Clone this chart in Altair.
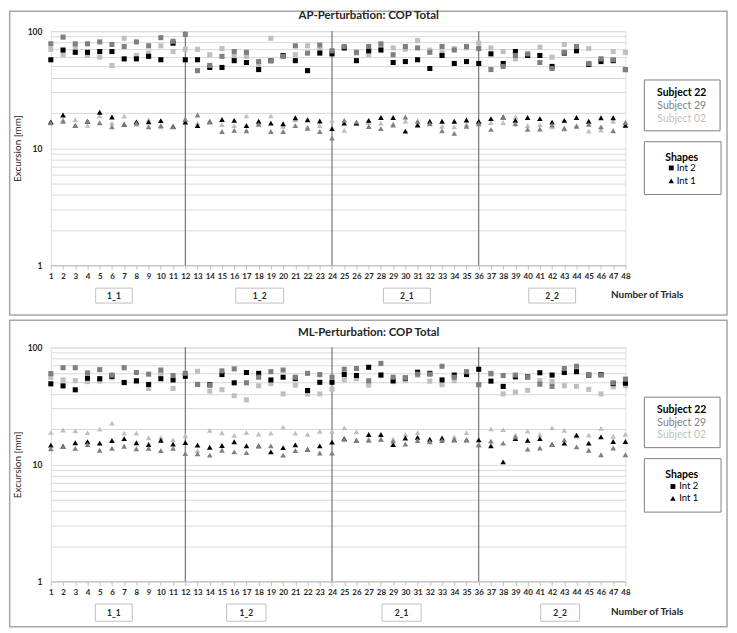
import altair as alt
import pandas as pd

# ---------------- data ----------------
trials = [1, 2, 3, 4, 5, 6, 7, 8, 9, 10, 11, 12, 13, 14, 15, 16, 17, 18, 19, 20, 21, 22, 23, 24,
          25, 26, 27, 28, 29, 30, 31, 32, 33, 34, 35, 36, 37, 38, 39, 40, 41, 42, 43, 44, 45, 46, 47, 48]
subjects = ["Subject 22", "Subject 29", "Subject 02"]
subject_colors = ["#000000", "#7f7f7f", "#bfbfbf"]
shapes = ["Int 2", "Int 1"]
dividers = [12, 24, 36]
blocks = ["1_1", "1_2", "2_1", "2_2"]
y_ticks = [1, 2, 3, 4, 5, 6, 7, 8, 9, 10, 20, 30, 40, 50, 60, 70, 80, 90, 100]

# AP-Perturbation, Int 2 (squares)
ap_sq_s22 = [57, 69, 66, 66, 67, 67, 58, 58, 61, 57, 79, 57, 57, 49, 49, 56, 54, 47, 56, 62, 56, 46, 65, 64,
             72, 56, 68, 69, 54, 55, 57, 48, 62, 53, 55, 53, 64, 53, 67, 62, 62, 50, 65, 68, 52, 55, 56, 47]
ap_sq_s29 = [78, 89, 78, 78, 81, 77, 74, 81, 75, 88, 82, 94, 46, 51, 61, 67, 66, 55, 56, 61, 75, 65, 76, 68,
             74, 66, 74, 78, 63, 74, 72, 66, 74, 69, 74, 71, 47, 50, 62, 64, 54, 48, 66, 74, 53, 58, 57, 47]
ap_sq_s02 = [70, 63, 73, 62, 60, 51, 87, 62, 65, 75, 67, 70, 70, 63, 71, 61, 61, 52, 87, 61, 63, 75, 69, 68,
             72, 65, 63, 72, 72, 70, 83, 69, 66, 71, 72, 79, 72, 67, 58, 63, 73, 60, 77, 72, 71, 58, 67, 66]
# AP-Perturbation, Int 1 (triangles)
ap_tri_s22 = [16.8, 19.2, 15.6, 17.0, 20.3, 18.5, 16.0, 16.8, 16.8, 17.2, 15.3, 16.7,
              15.6, 16.8, 17.6, 17.3, 15.6, 17.0, 16.4, 16.2, 18.2, 17.5, 17.1, 14.7,
              16.4, 16.4, 17.3, 18.3, 18.3, 14.0, 15.8, 17.0, 17.0, 17.0, 17.4, 17.0,
              17.9, 18.5, 17.3, 18.3, 17.9, 16.7, 17.3, 18.3, 17.0, 18.2, 18.2, 15.7]
ap_tri_s29 = [16.5, 17.0, 15.6, 17.0, 16.5, 15.2, 16.0, 16.4, 15.2, 15.6, 15.2, 17.7,
              19.2, 16.9, 13.9, 14.2, 14.1, 16.0, 13.9, 13.9, 15.6, 14.8, 13.9, 12.2,
              17.3, 16.8, 15.3, 14.7, 15.8, 18.5, 17.0, 16.2, 14.1, 13.4, 15.4, 16.2,
              14.5, 18.5, 16.2, 14.5, 14.6, 15.8, 14.8, 15.4, 16.0, 15.2, 14.1, 16.6]
ap_tri_s02 = [16.8, 17.5, 17.5, 15.7, 18.9, 16.4, 18.8, 16.0, 17.5, 15.2, 15.6, 17.5,
              16.4, 17.1, 15.9, 15.6, 18.9, 16.4, 18.9, 15.4, 17.5, 15.2, 15.6, 17.3,
              14.2, 16.3, 16.6, 16.4, 16.2, 17.1, 16.0, 16.4, 15.4, 15.2, 16.0, 16.6,
              16.6, 16.6, 18.5, 15.6, 15.9, 15.2, 14.6, 15.6, 14.0, 14.3, 17.0, 16.6]

# ML-Perturbation, Int 2 (squares)
ml_sq_s22 = [48.8, 46.9, 43.4, 54.5, 54, 56.6, 50, 51.8, 48.2, 54, 52.7, 56.6,
             48.2, 48, 58.6, 49.8, 61, 60, 52.7, 55.6, 54, 42.8, 50.3, 50.3,
             58.6, 57.5, 67.6, 58, 51.8, 54.5, 61.3, 60, 52.7, 58, 58.6, 65,
             51.5, 46.4, 56, 56, 60.7, 58, 61, 62, 58, 58.6, 49, 49.4]
ml_sq_s29 = [59.7, 67, 67, 60.5, 64.5, 58, 67, 61, 59, 64, 57.4, 60,
             48.2, 47.5, 63, 65.5, 49.8, 55.6, 62, 64, 55.6, 60, 58.5, 55.6,
             65, 66, 51.8, 73, 55.6, 55, 59, 59, 69, 55.6, 62, 48,
             60, 57.5, 58, 55.6, 48.5, 46.4, 66, 69, 58.6, 58, 49.8, 53.6]
ml_sq_s02 = [55.6, 52.7, 52, 51, 51.5, 55, 50.5, 51, 44.6, 60, 44.6, 60,
             62.5, 42.3, 43.5, 38.6, 35.6, 47, 49, 40, 47.5, 40, 40, 44,
             52.7, 54, 47.5, 58, 51, 52, 58, 51.5, 48, 52, 61, 48,
             59, 40, 41.5, 43, 52, 51, 47, 46.4, 43.8, 40, 46, 47]
# ML-Perturbation, Int 1 (triangles)
ml_tri_s22 = [14.6, 14.3, 15.3, 15.6, 15.2, 16.0, 16.6, 15.3, 14.8, 16.1, 14.9, 15.4,
              14.6, 14.0, 14.5, 15.6, 14.4, 14.4, 12.8, 13.9, 14.7, 13.4, 14.4, 15.5,
              16.6, 16.0, 18.0, 18.0, 14.8, 16.8, 17.0, 16.4, 16.8, 16.2, 16.2, 16.2,
              14.4, 10.5, 16.6, 16.1, 16.6, 14.8, 15.2, 17.8, 15.2, 17.2, 15.7, 15.7]
ml_tri_s29 = [13.6, 14.2, 13.7, 14.8, 13.2, 13.7, 14.3, 13.6, 13.7, 13.1, 13.7, 12.4,
              12.3, 12.0, 13.2, 12.8, 12.6, 14.4, 14.4, 12.0, 13.1, 13.4, 12.5, 12.5,
              16.4, 16.0, 16.1, 16.4, 15.8, 14.9, 16.0, 15.6, 16.0, 16.2, 16.2, 14.6,
              15.8, 15.2, 17.2, 13.5, 13.8, 14.8, 16.2, 14.1, 13.2, 12.1, 13.8, 12.1]
ml_tri_s02 = [18.8, 19.7, 19.4, 18.7, 20.0, 22.5, 18.5, 18.5, 16.9, 17.0, 16.2, 17.6,
              13.1, 19.6, 18.6, 17.7, 18.7, 18.2, 18.5, 20.8, 18.5, 18.1, 19.2, 19.2,
              20.5, 19.0, 16.5, 16.4, 16.4, 18.0, 18.7, 15.8, 16.4, 17.2, 18.7, 15.0,
              20.1, 19.8, 17.8, 19.3, 18.0, 20.5, 19.6, 17.5, 17.8, 20.3, 17.4, 18.1]

# block label boxes (in trial units)
ap_block_start = [4.67, 16.13, 28.2, 40.09]
ap_block_end = [7.66, 20.04, 32.05, 43.92]
ml_block_start = [4.64, 15.38, 28.09, 41.07]
ml_block_end = [7.66, 18.6, 31.29, 44.25]

FONT = "Lato"
W, H = 577, 235
z_order = {"Subject 02": 0, "Subject 22": 1, "Subject 29": 2}


def panel(title, sq, tri, bstart, bend, L):
    rows = []
    for shape_name, series in (("Int 2", sq), ("Int 1", tri)):
        for subj, arr in zip(subjects, series):
            for t, v in zip(trials, arr):
                rows.append({"trial": t, "value": v, "subject": subj,
                             "shape": shape_name, "z": z_order[subj]})
    df = pd.DataFrame(rows)
    one = pd.DataFrame({"k": [0]})

    xs = alt.Scale(domain=[1, 48], nice=False, zero=False)
    ys = alt.Scale(type="log", domain=[1, 100], nice=False)

    x_axis = alt.Axis(
        values=trials, format="d", grid=False, ticks=True, tickSize=4,
        tickColor="#bfbfbf", domain=True, domainColor="#bfbfbf",
        labelFont=FONT, labelFontSize=8, labelFontWeight="bold",
        labelColor="#262626", labelPadding=3, labelOverlap=False,
        labelFlush=False, labelBound=False, title=None)

    points = alt.Chart(df).mark_point(filled=True, opacity=1, strokeWidth=0).encode(
        x=alt.X("trial:Q", scale=xs, axis=x_axis),
        y=alt.Y("value:Q", scale=ys, axis=alt.Axis(
            values=y_ticks,
            labelExpr="indexof([1, 10, 100], datum.value) >= 0 ? format(datum.value, 'd') : ''",
            grid=True, gridColor="#d9d9d9", gridWidth=1, ticks=False, domain=False,
            labelFont=FONT, labelFontSize=8.5, labelFontWeight="bold",
            labelColor="#262626", labelPadding=9, labelOverlap=False,
            title="Excursion [mm]", titleFont=FONT, titleFontSize=10,
            titleFontWeight="normal", titleColor="#262626", titlePadding=5)),
        color=alt.Color("subject:N", scale=alt.Scale(domain=subjects, range=subject_colors), legend=None),
        shape=alt.Shape("shape:N", scale=alt.Scale(domain=shapes, range=["square", "triangle-up"]), legend=None),
        size=alt.Size("shape:N", scale=alt.Scale(domain=shapes, range=[26, 32]), legend=None),
        order=alt.Order("z:Q"),
    )

    rules = alt.Chart(pd.DataFrame({"trial": dividers})).mark_rule(
        color="#595959", strokeWidth=1).encode(x=alt.X("trial:Q", scale=xs, axis=x_axis))

    bdf = pd.DataFrame({"block": blocks, "trial": bstart, "trial_end": bend})
    boxes = alt.Chart(bdf).mark_rect(fill="white", stroke="#bfbfbf", strokeWidth=1).encode(
        x=alt.X("trial:Q", scale=xs, axis=x_axis), x2="trial_end:Q",
        y=alt.value(L["by1"]), y2=alt.value(L["by2"]))
    box_txt = alt.Chart(bdf).transform_calculate(
        mid="(datum.trial + datum.trial_end) / 2").mark_text(
        font=FONT, fontSize=8.5, fontWeight="bold", color="#262626", baseline="middle").encode(
        x=alt.X("mid:Q", scale=xs, axis=x_axis), y=alt.value((L["by1"] + L["by2"]) / 2),
        text="block:N")

    ntr = alt.Chart(one).mark_text(font=FONT, fontSize=10, fontWeight="bold", color="#262626",
                                   align="left", baseline="middle").encode(
        x=alt.value(562.5), y=alt.value(L["ntr"]), text=alt.value("Number of Trials"))

    ttl = alt.Chart(one).mark_text(font=FONT, fontSize=11.5, fontWeight="bold", color="#262626",
                                   align="center", baseline="middle").encode(
        x=alt.value(319.2), y=alt.value(L["title"]), text=alt.value(title))

    border = alt.Chart(one).mark_rect(fillOpacity=0, stroke="#a6a6a6", strokeWidth=1.5).encode(
        x=alt.value(-41.3), x2=alt.value(679), y=alt.value(L["b1"]), y2=alt.value(L["b2"]))

    lb1 = alt.Chart(one).mark_rect(fill="white", stroke="#7f7f7f", strokeWidth=1).encode(
        x=alt.value(596), x2=alt.value(672), y=alt.value(L["l1a"]), y2=alt.value(L["l1b"]))
    lb2 = alt.Chart(one).mark_rect(fill="white", stroke="#7f7f7f", strokeWidth=1).encode(
        x=alt.value(596), x2=alt.value(673), y=alt.value(L["l2a"]), y2=alt.value(L["l2b"]))

    leg_txt = []
    for i, (s, c) in enumerate(zip(subjects, subject_colors)):
        leg_txt.append(alt.Chart(one).mark_text(
            font=FONT, fontSize=10.5, fontWeight="bold" if i == 0 else "normal", color=c,
            align="center", baseline="middle").encode(
            x=alt.value(633.5), y=alt.value(L["s"][i]), text=alt.value(s)))
    leg_txt.append(alt.Chart(one).mark_text(
        font=FONT, fontSize=10.5, fontWeight="bold", color="#000000",
        align="center", baseline="middle").encode(
        x=alt.value(633.5), y=alt.value(L["shp"]), text=alt.value("Shapes")))
    for i, (nm, sym, sz) in enumerate(zip(shapes, ["square", "triangle-up"], [24, 30])):
        leg_txt.append(alt.Chart(one).mark_point(
            shape=sym, filled=True, size=sz, color="#000000", opacity=1, strokeWidth=0).encode(
            x=alt.value(L["mx"]), y=alt.value(L["int"][i])))
        leg_txt.append(alt.Chart(one).mark_text(
            font=FONT, fontSize=9.5, color="#000000", align="left", baseline="middle").encode(
            x=alt.value(L["tx"]), y=alt.value(L["int"][i]), text=alt.value(nm)))

    return alt.layer(border, rules, points, boxes, box_txt, ntr, ttl, lb1, lb2,
                     *leg_txt).properties(width=W, height=H)


ap_layout = {"b1": -20, "b2": 285, "title": -15, "by1": 258, "by2": 273, "ntr": 265,
             "l1a": 49, "l1b": 100, "l2a": 111, "l2b": 164, "s": [62, 74.7, 87.7],
             "shp": 127, "int": [137.3, 150.3], "mx": 623, "tx": 628.5}
ml_layout = {"b1": -27.3, "b2": 280.5, "title": -14.3, "by1": 257.7, "by2": 275, "ntr": 265.7,
             "l1a": 50, "l1b": 100.7, "l2a": 111.7, "l2b": 165.4, "s": [62.7, 75.7, 88.4],
             "shp": 127.7, "int": [139.7, 151.7], "mx": 624.7, "tx": 631}

top = panel("AP-Perturbation: COP Total", [ap_sq_s22, ap_sq_s29, ap_sq_s02],
            [ap_tri_s22, ap_tri_s29, ap_tri_s02], ap_block_start, ap_block_end, ap_layout)
bottom = panel("ML-Perturbation: COP Total", [ml_sq_s22, ml_sq_s29, ml_sq_s02],
               [ml_tri_s22, ml_tri_s29, ml_tri_s02], ml_block_start, ml_block_end, ml_layout)

chart = alt.vconcat(top, bottom, spacing=1.5).properties(
    padding={"left": 0, "top": 0, "right": 0, "bottom": 0}
).configure_view(stroke=None).configure(background="white")

chart.save("out.html", embed_options={"renderer": "svg", "actions": False})
